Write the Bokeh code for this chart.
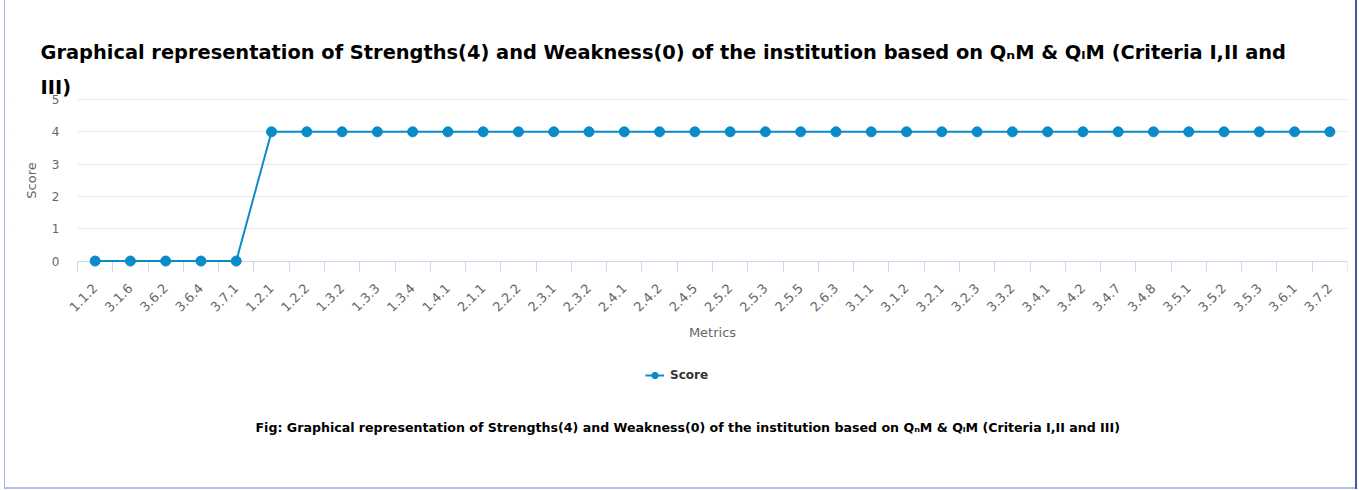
import math
from bokeh.plotting import figure
from bokeh.models import (Range1d, FixedTicker, Title, Legend, LegendItem,
                          ColumnDataSource, BoxAnnotation)
from bokeh.embed import file_html
from bokeh.resources import INLINE

metrics = ["1.1.2", "3.1.6", "3.6.2", "3.6.4", "3.7.1", "1.2.1", "1.2.2", "1.3.2",
           "1.3.3", "1.3.4", "1.4.1", "2.1.1", "2.2.2", "2.3.1", "2.3.2", "2.4.1",
           "2.4.2", "2.4.5", "2.5.2", "2.5.3", "2.5.5", "2.6.3", "3.1.1", "3.1.2",
           "3.2.1", "3.2.3", "3.3.2", "3.4.1", "3.4.2", "3.4.7", "3.4.8", "3.5.1",
           "3.5.2", "3.5.3", "3.6.1", "3.7.2"]
scores = [0, 0, 0, 0, 0, 4, 4, 4, 4, 4, 4, 4, 4, 4, 4, 4, 4, 4, 4, 4, 4, 4, 4, 4,
          4, 4, 4, 4, 4, 4, 4, 4, 4, 4, 4, 4]
y_ticks = [0, 1, 2, 3, 4, 5]
series_name = "Score"
title_line1 = ("Graphical representation of Strengths(4) and Weakness(0) of the "
               "institution based on Q\u2099M & Q\u2097M (Criteria I,II and")
title_line2 = "III)"
caption = ("Fig: Graphical representation of Strengths(4) and Weakness(0) of the "
           "institution based on Q\u2099M & Q\u2097M (Criteria I,II and III)")

COLOR = "#0a8bc9"
FONT = "DejaVu Sans"
PPU = 32.2                 # pixels per score unit
n = len(metrics)
PPX = (1347 - 77) / n      # pixels per category

xs = [i + 0.5 for i in range(n)]
src = ColumnDataSource(dict(x=xs, score=scores, metric=metrics))

# frame spans page x 15..1347 (category 0 starts at 77), y 90..400
p = figure(width=1359, height=490, output_backend="svg", toolbar_location=None,
           x_range=Range1d(-(77 - 15) / PPX, n),
           y_range=Range1d(-139 / PPU, 5 + 9 / PPU),
           title=None, min_border_left=15, min_border_right=12,
           min_border_top=90, min_border_bottom=90)
p.outline_line_color = None
p.background_fill_color = "white"
p.border_fill_color = None
p.styles = {
    "background-color": "white",
    "box-shadow": ("inset 4px 0 0 #ffffff, inset -2px 0 0 #ffffff, "
                   "inset 0 -1px 0 #ffffff, inset 5px 0 0 #a9b7e4, "
                   "inset -4px 0 0 #3b5ba8, inset 0 -3px 0 #b4c0e4"),
}

# grid
p.xgrid.visible = False
p.ygrid.ticker = FixedTicker(ticks=y_ticks[1:])
p.ygrid.grid_line_color = "#e6e6e6"
# keep the grid lines to the right of the plot area's left edge
p.add_layout(BoxAnnotation(right=0, bottom=-0.02, fill_color="white",
                           fill_alpha=1, line_color=None, level="underlay"))

xax = p.xaxis[0]
xax.fixed_location = 0
xax.bounds = (0, n)
xax.level = "underlay"
xax.ticker = FixedTicker(ticks=xs, minor_ticks=list(range(n + 1)))
xax.major_label_overrides = {x: m for x, m in zip(xs, metrics)}
xax.axis_line_color = "#ccd6eb"
xax.major_tick_line_color = None
xax.major_tick_in = 0
xax.major_tick_out = 0
xax.minor_tick_line_color = "#ccd6eb"
xax.minor_tick_in = 0
xax.minor_tick_out = 10
xax.major_label_orientation = math.pi / 4
xax.major_label_text_font = FONT
xax.major_label_text_font_size = "13px"
xax.major_label_text_color = "#666666"
xax.major_label_standoff = 15
xax.axis_label = "Metrics"
xax.axis_label_text_font = FONT
xax.axis_label_text_font_size = "13px"
xax.axis_label_text_font_style = "normal"
xax.axis_label_text_color = "#666666"
xax.axis_label_standoff = 6

yax = p.yaxis[0]
yax.fixed_location = 0
yax.bounds = (0, 5)
yax.ticker = FixedTicker(ticks=y_ticks)
yax.axis_line_color = None
yax.major_tick_line_color = None
yax.minor_tick_line_color = None
yax.major_tick_out = 0
yax.major_tick_in = 0
yax.major_label_text_font = FONT
yax.major_label_text_font_size = "12px"
yax.major_label_text_color = "#666666"
yax.major_label_standoff = 18
yax.axis_label = "Score"
yax.axis_label_text_font = FONT
yax.axis_label_text_font_size = "13px"
yax.axis_label_text_font_style = "normal"
yax.axis_label_text_color = "#666666"
yax.axis_label_standoff = 10

line = p.line("x", "score", source=src, line_color=COLOR, line_width=2)
pts = p.scatter("x", "score", source=src, size=10, fill_color=COLOR,
                line_color=COLOR)

legend = Legend(items=[LegendItem(label=series_name, renderers=[line, pts])],
                orientation="horizontal", location=(645 - 15, 17),
                border_line_color=None, background_fill_alpha=0,
                label_text_font=FONT, label_text_font_size="12px",
                label_text_font_style="bold", label_text_color="#333333",
                glyph_width=19, glyph_height=16, padding=4, margin=0,
                label_standoff=6)
p.add_layout(legend, "center")

cap = Title(text=caption, align="left", offset=255 - 15, text_font=FONT,
            text_font_size="12.6px", text_font_style="bold", text_color="black",
            standoff=35)
p.add_layout(cap, "below")

t2 = Title(text=title_line2, align="left", offset=40 - 15, text_font=FONT,
           text_font_size="19.4px", text_font_style="bold", text_color="black",
           standoff=-16)
p.add_layout(t2, "above")
t1 = Title(text=title_line1, align="left", offset=40 - 15, text_font=FONT,
           text_font_size="19.4px", text_font_style="bold", text_color="black",
           standoff=36)
p.add_layout(t1, "above")

open("out.html", "w").write(file_html(p, INLINE))
